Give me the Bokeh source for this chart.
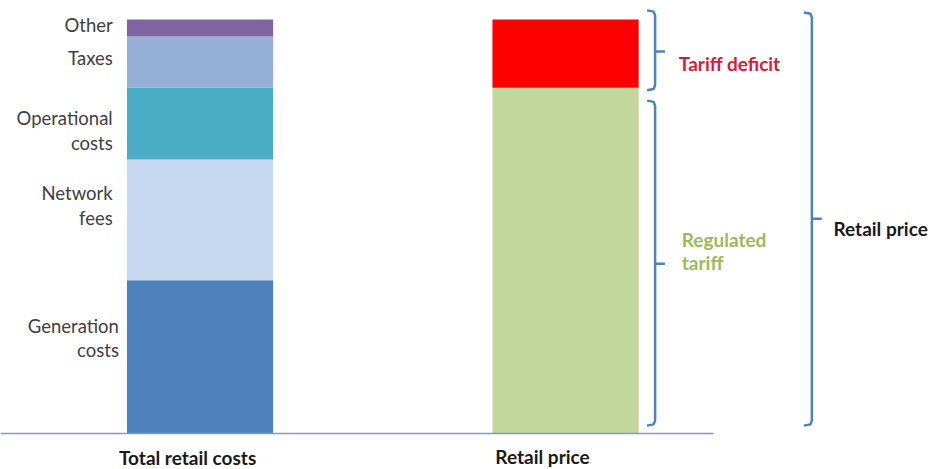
import numpy as np
from bokeh.plotting import figure
from bokeh.models import Range1d
from bokeh.core.properties import value
from bokeh.embed import file_html
from bokeh.resources import INLINE

# ---- data ----
categories = ["Total retail costs", "Retail price"]
cost_labels = ["Generation\ncosts", "Network\nfees", "Operational\ncosts", "Taxes", "Other"]
cost_values = [37.0, 29.2, 17.4, 12.3, 4.1]
cost_colors = ["#4F81BD", "#C6D9F1", "#4BACC6", "#95AFD6", "#8064A2"]
price_labels = ["Regulated\ntariff", "Tariff deficit"]
price_values = [83.5, 16.5]
price_colors = ["#C3D69B", "#FF0000"]
bracket_label = "Retail price"

# ---- layout (label anchor positions) ----
cost_label_y = [23.1, 55.1, 73.2, 90.6, 98.6]
cost_label_x = [-0.222, -0.239, -0.239, -0.239, -0.239]

FONT = "Lato"
W, H = 932, 469
p = figure(width=W, height=H, output_backend="svg", toolbar_location=None,
           x_axis_type=None, y_axis_type=None, min_border=0,
           x_range=Range1d(-0.546, 2.004), y_range=Range1d(-8.70, 104.59))
p.outline_line_color = None
p.grid.visible = False
p.background_fill_color = "white"
p.border_fill_color = "white"

bw = 0.4
ctop = np.cumsum(cost_values)
cbot = ctop - np.array(cost_values)
p.vbar(x=[0] * len(cost_values), bottom=cbot, top=ctop, width=bw,
       fill_color=cost_colors, line_color=None)
ptop = np.cumsum(price_values)
pbot = ptop - np.array(price_values)
p.vbar(x=[1] * len(price_values), bottom=pbot, top=ptop, width=bw,
       fill_color=price_colors, line_color=None)

# baseline
p.segment(x0=[-0.546], y0=[0], x1=[1.405], y1=[0], line_color="#7A9CC8", line_width=1.5)

# segment labels
p.text(x=cost_label_x, y=cost_label_y, text=cost_labels, text_align="right", text_baseline="middle",
       text_font=value(FONT), text_font_size="18.5px", text_color="#404040",
       text_line_height=1.12)

# brackets
bc = "#4F81BD"
total = ptop[-1]
reg = price_values[0]
brackets = [(1.245, reg - 0.6, total + 2.2), (1.245, 1.9, reg - 3.1), (1.674, 1.9, total + 1.7)]
mid_y = [92.3, 41.0, 51.9]
xs, ys = [], []
for (bx, b0, b1), my in zip(brackets, mid_y):
    xs.append([bx - 0.022, bx - 0.004, bx, bx, bx - 0.004, bx - 0.022])
    ys.append([b1, b1 - 0.3, b1 - 1.2, b0 + 1.2, b0 + 0.3, b0])
    xs.append([bx, bx + 0.027])
    ys.append([my, my])
p.multi_line(xs=xs, ys=ys, line_color=bc, line_width=2.5)

# bracket labels
p.text(x=[1.310], y=[89.4], text=[price_labels[1]], text_align="left", text_baseline="middle",
       text_font=value(FONT), text_font_size="19px", text_font_style="bold", text_color="#D81B3A")
p.text(x=[1.318], y=[44.2], text=[price_labels[0]], text_align="left", text_baseline="middle",
       text_font=value(FONT), text_font_size="19px", text_font_style="bold", text_color="#9BBB59",
       text_line_height=1.0)
p.text(x=[1.733], y=[49.5], text=[bracket_label], text_align="left", text_baseline="middle",
       text_font=value(FONT), text_font_size="19px", text_font_style="bold", text_color="#1A1A1A")

# category labels
p.text(x=[-0.034, 0.937], y=[-5.8, -5.6], text=categories, text_align="center",
       text_baseline="middle", text_font=value(FONT), text_font_size="19px",
       text_font_style="bold", text_color="#1A1A1A")

open("out.html", "w").write(file_html(p, INLINE))
